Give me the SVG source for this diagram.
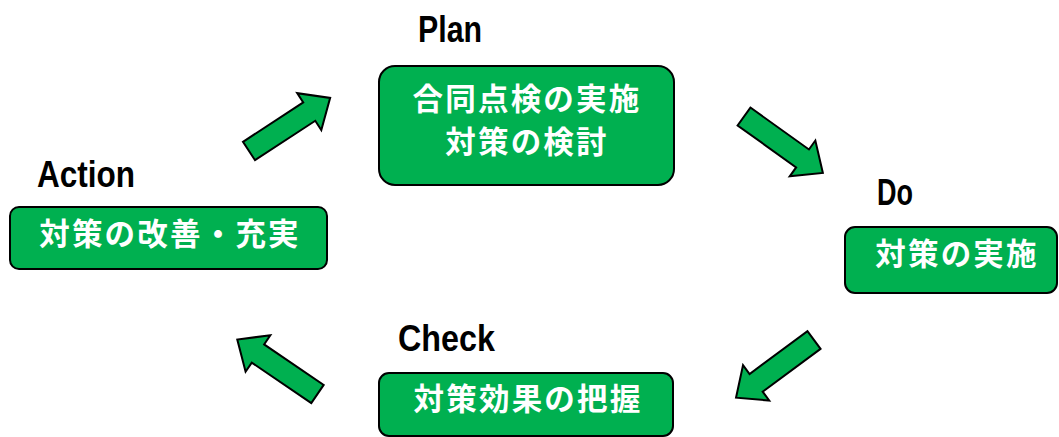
<svg xmlns="http://www.w3.org/2000/svg" width="1059" height="437" viewBox="0 0 1059 437">
<defs>
<style>
.box{fill:#00B050;stroke:#000;stroke-width:2}
.jp{font-family:"Noto Sans CJK JP","Noto Sans CJK SC",sans-serif;font-weight:bold;font-size:30.5px;fill:#fff;letter-spacing:2.2px;text-anchor:middle}
.lbl{font-family:"Liberation Sans",Arial,sans-serif;font-weight:bold;font-size:37px;fill:#000}
.arr{fill:#00B050;stroke:#000;stroke-width:2;stroke-linejoin:miter}
</style>
<polygon id="arrowShape" points="0,-11 72,-11 72,-22 97,0 72,22 72,11 0,11"/>
</defs>
<rect width="1059" height="437" fill="#fff"/>
<g id="plan">
<text class="lbl" x="418" y="42" textLength="64" lengthAdjust="spacingAndGlyphs">Plan</text>
<rect class="box" x="379" y="66" width="295" height="119" rx="16"/>
<text class="jp" x="527" y="110">合同点検の実施</text>
<text class="jp" x="527" y="153">対策の検討</text>
</g>
<g id="do">
<text class="lbl" x="877" y="205" textLength="36" lengthAdjust="spacingAndGlyphs">Do</text>
<rect class="box" x="845" y="227" width="212" height="66" rx="10"/>
<text class="jp" x="957" y="265">対策の実施</text>
</g>
<g id="check">
<text class="lbl" x="398" y="351" textLength="97" lengthAdjust="spacingAndGlyphs">Check</text>
<rect class="box" x="379" y="373" width="294" height="63" rx="10"/>
<text class="jp" x="528" y="410">対策効果の把握</text>
</g>
<g id="action">
<text class="lbl" x="37" y="187" textLength="98" lengthAdjust="spacingAndGlyphs">Action</text>
<rect class="box" x="10" y="207" width="317" height="62" rx="9"/>
<text class="jp" x="170" y="245">対策の改善・充実</text>
</g>
<g id="connectors">
<use href="#arrowShape" class="arr" transform="translate(249,151) rotate(-33.2)"/>
<use href="#arrowShape" class="arr" transform="translate(744,116.5) rotate(35.6)"/>
<use href="#arrowShape" class="arr" transform="translate(814,340) rotate(143.5)"/>
<use href="#arrowShape" class="arr" transform="translate(317.5,394) rotate(214.2)"/>
</g>
</svg>
